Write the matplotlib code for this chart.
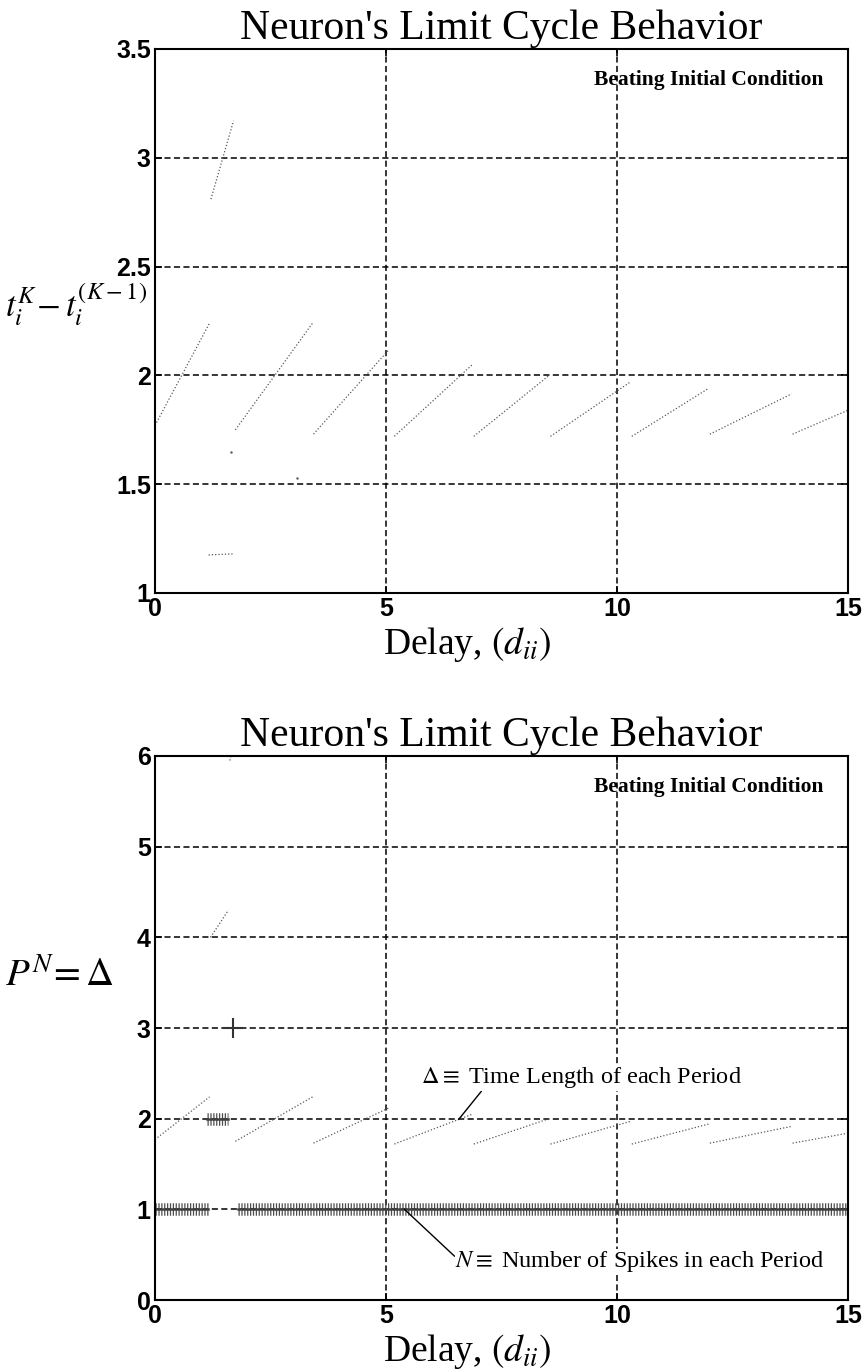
import numpy as np
import matplotlib
matplotlib.use('Agg')
import matplotlib.pyplot as plt

plt.rcParams['mathtext.fontset'] = 'stix'
plt.rcParams['font.family'] = ['Liberation Serif', 'DejaVu Serif']

# inter-spike interval branches, (delay start, value start, delay end, value end)
seg_x0 = [0.00, 1.74, 3.43, 5.18, 6.90, 8.56, 10.32, 12.01, 13.80]
seg_y0 = [1.77, 1.75, 1.73, 1.72, 1.72, 1.72, 1.72, 1.73, 1.73]
seg_x1 = [1.18, 3.41, 5.07, 6.87, 8.53, 10.29, 11.98, 13.78, 15.00]
seg_y1 = [2.24, 2.24, 2.12, 2.05, 2.00, 1.97, 1.94, 1.915, 1.84]

# extra short branches near delay 1.2-1.7 (top plot)
top_extra_x0 = [1.21, 1.16]
top_extra_y0 = [2.81, 1.175]
top_extra_x1 = [1.70, 1.70]
top_extra_y1 = [3.17, 1.18]
top_pts_x = [1.64, 3.08]
top_pts_y = [1.65, 1.53]

# extra short branches (bottom plot)
bot_extra_x0 = [1.20, 1.62]
bot_extra_y0 = [4.00, 5.95]
bot_extra_x1 = [1.59, 1.68]
bot_extra_y1 = [4.30, 6.10]

# number of spikes per period: ranges of delay where N holds
n_ranges = [(0.0, 1.15, 1), (1.80, 15.0, 1), (1.12, 1.58, 2)]
n_single_x = [1.68]
n_single_y = [3]

W, H = 865, 1369
fig = plt.figure(figsize=(W / 100, H / 100), dpi=100)

def px_axes(left, top, right, bottom):
    return fig.add_axes([left / W, 1 - bottom / H, (right - left) / W, (bottom - top) / H])

ax1 = px_axes(155, 49, 848, 593)
ax2 = px_axes(155, 756, 848, 1300)

grid_style = dict(color='black', lw=1.1, linestyle=(0, (4, 2.2)))
dot_style = dict(color='0.35', lw=0.9, linestyle=(0, (1, 1.6)))

def style_axes(ax, ylim, yticks):
    ax.set_xlim(0, 15)
    ax.set_ylim(*ylim)
    ax.set_xticks([0, 5, 10, 15])
    ax.set_yticks(yticks)
    ax.set_yticklabels([('%g' % t) for t in yticks])
    ax.grid(True, **grid_style)
    ax.set_axisbelow(True)
    for s in ax.spines.values():
        s.set_linewidth(1.5)
    ax.tick_params(direction='in', length=5, width=1.2, top=True, right=True, pad=3)
    for lab in ax.get_xticklabels() + ax.get_yticklabels():
        lab.set_family('Liberation Sans')
        lab.set_fontweight('bold')
        lab.set_fontsize(18)
    ax.set_title("Neuron's Limit Cycle Behavior", fontsize=30, pad=7)
    ax.text(0.965, 0.962, 'Beating Initial Condition', transform=ax.transAxes,
            ha='right', va='top', fontsize=15.5, fontweight='bold')
    ax.set_xlabel('Delay, $(d_{ii})$', fontsize=27)
    ax.xaxis.set_label_coords(0.45, -0.058)

# top plot
for i in range(len(seg_x0)):
    ax1.plot([seg_x0[i], seg_x1[i]], [seg_y0[i], seg_y1[i]], **dot_style)
for i in range(len(top_extra_x0)):
    ax1.plot([top_extra_x0[i], top_extra_x1[i]], [top_extra_y0[i], top_extra_y1[i]], **dot_style)
ax1.plot(top_pts_x, top_pts_y, ls='none', marker='.', ms=1.5, color='0.35')
style_axes(ax1, (1, 3.5), [1, 1.5, 2, 2.5, 3, 3.5])
fig.text(5 / W, 1 - 305 / H, '$t_i^{K}\\!-t_i^{(K-1)}$', fontsize=25, ha='left', va='center')

# bottom plot
for i in range(len(seg_x0)):
    ax2.plot([seg_x0[i], seg_x1[i]], [seg_y0[i], seg_y1[i]], **dot_style)
for i in range(len(bot_extra_x0)):
    ax2.plot([bot_extra_x0[i], bot_extra_x1[i]], [bot_extra_y0[i], bot_extra_y1[i]], **dot_style)
for x0, x1, n in n_ranges:
    # dense '+' markers drawn as a comb of ticks and a bar
    ax2.plot([x0, x1], [n, n], color='0.3', lw=9, solid_capstyle='butt',
             linestyle=(0, (0.1, 0.13)))
    ax2.plot([x0, x1], [n, n], color='0.25', lw=1.8)
ax2.plot(n_single_x, n_single_y, ls='none', marker='+', ms=14, mew=1.5, color='0.2')
style_axes(ax2, (0, 6), [0, 1, 2, 3, 4, 5, 6])
fig.text(5 / W, 1 - 977 / H, '$P^{N}\\!=\\Delta$', fontsize=28, ha='left', va='center')

box = dict(facecolor='white', edgecolor='none', pad=0.5)
ax2.annotate('$\\Delta \\equiv$ Time Length of each Period', xy=(6.57, 1.99), xytext=(5.76, 2.45),
             fontsize=17.5, va='center', ha='left', bbox=box,
             arrowprops=dict(arrowstyle='-', lw=1.0, color='black', shrinkA=0, shrinkB=0,
                             relpos=(0.19, 0)))
ax2.annotate('$N \\equiv$ Number of Spikes in each Period', xy=(5.4, 1.0), xytext=(6.5, 0.42),
             fontsize=17.5, va='center', ha='left', bbox=box,
             arrowprops=dict(arrowstyle='-', lw=1.0, color='black', shrinkA=0, shrinkB=0,
                             relpos=(0, 0.7)))

fig.savefig('out.png', dpi=100)
